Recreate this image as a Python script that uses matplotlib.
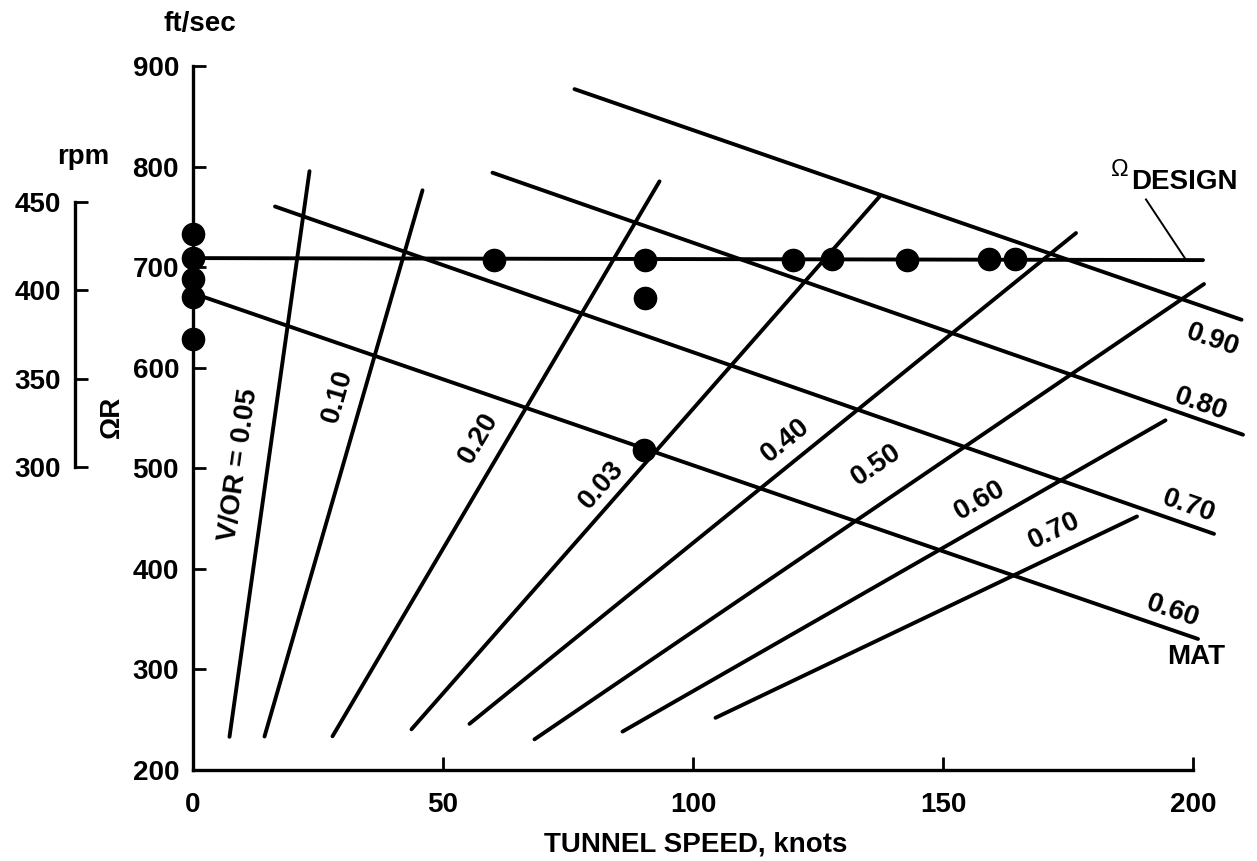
import numpy as np
import matplotlib
matplotlib.use("Agg")
import matplotlib.pyplot as plt

plt.rcParams['font.family'] = ['Liberation Sans', 'DejaVu Sans']
plt.rcParams['font.weight'] = 'bold'

# ---------------- data ----------------
x_ticks = [0, 50, 100, 150, 200]
y_ticks = [200, 300, 400, 500, 600, 700, 800, 900]
rpm_ticks = [300, 350, 400, 450]

# design rotor tip speed line
design_knots = [0, 202]
design_omegaR = [709, 707]

# test points
pt_knots = [0, 0, 0, 0, 0, 60.1, 90.3, 90.4, 90.2, 119.9, 127.7, 142.7, 159.1, 164.3]
pt_omegaR = [733, 709, 688, 670, 629, 707.5, 707.5, 669, 518.5, 707.5, 708, 707.5, 708, 708.5]

# advance ratio lines V/OmegaR
mu_labels = ["V/OR = 0.05", "0.10", "0.20", "0.03", "0.40", "0.50", "0.60", "0.70"]
mu_knots_start = [7.3, 14.3, 27.9, 43.7, 55.3, 68.3, 85.9, 104.5]
mu_omegaR_start = [233, 233.3, 233.5, 240.5, 245.9, 230.5, 238.2, 251.9]
mu_knots_end = [23.3, 45.9, 93.3, 137.3, 176.6, 202.2, 194.5, 188.8]
mu_omegaR_end = [795.4, 776.4, 785.3, 770.1, 733.9, 683.2, 547.7, 452.1]
mu_label_knots = [9.2, 29.0, 57.2, 81.7, 118.6, 136.6, 157.3, 172.2]
mu_label_omegaR = [503.6, 572.0, 530.3, 483.6, 527.8, 503.7, 467.7, 437.5]

# advancing-tip Mach number lines (MAT)
mat_labels = ["0.90", "0.80", "0.70", "0.60"]
mat_knots_start = [76.3, 59.9, 16.4, 0.0]
mat_omegaR_start = [877, 793.9, 760.3, 674]
mat_knots_end = [209.7, 210.0, 204.2, 201.0]
mat_omegaR_end = [647.7, 533.4, 434.8, 330.3]
mat_label_knots = [203.9, 201.5, 199.1, 196.0]
mat_label_omegaR = [627.0, 564.0, 462.0, 358.0]

# ---------------- figure ----------------
W, H = 1257, 861
fig = plt.figure(figsize=(W / 100, H / 100), dpi=100)

def fx(px):
    return px / W

def fy(py):
    return 1 - py / H

FS = 20

ax = fig.add_axes([fx(193), fy(770), fx(1193) - fx(193), fy(66) - fy(770)])
ax.set_xlim(0, 200)
ax.set_ylim(200, 900)
for s in ['top', 'right']:
    ax.spines[s].set_visible(False)
for s in ['left', 'bottom']:
    ax.spines[s].set_linewidth(2.4)
ax.set_xticks(x_ticks)
ax.set_yticks(y_ticks)
ax.tick_params(axis='both', direction='in', length=9.5, width=2.0,
               labelsize=FS, colors='black')
ax.tick_params(axis='x', pad=16)
ax.tick_params(axis='y', pad=10)

LW = 2.8
ax.plot(design_knots, design_omegaR, color='black', lw=LW, clip_on=False,
        solid_capstyle='round', zorder=3)

for xs, ys, xe, ye in zip(mu_knots_start, mu_omegaR_start, mu_knots_end, mu_omegaR_end):
    ax.plot([xs, xe], [ys, ye], color='black', lw=LW, clip_on=False,
            solid_capstyle='round', zorder=2)

for xs, ys, xe, ye in zip(mat_knots_start, mat_omegaR_start, mat_knots_end, mat_omegaR_end):
    ax.plot([xs, xe], [ys, ye], color='black', lw=LW, clip_on=False,
            solid_capstyle='round', zorder=2)

ax.plot(pt_knots, pt_omegaR, 'o', color='black', ms=16, clip_on=False, zorder=5)

# labels on advance ratio lines
for lab, lx, ly, xs, ys, xe, ye in zip(mu_labels, mu_label_knots, mu_label_omegaR,
                                       mu_knots_start, mu_omegaR_start,
                                       mu_knots_end, mu_omegaR_end):
    ang = np.degrees(np.arctan2(ye - ys, xe - xs))
    ax.text(lx, ly, lab, fontsize=FS, rotation=ang, rotation_mode='anchor',
            transform_rotates_text=True, ha='center', va='center', clip_on=False)

# labels on MAT lines
for lab, lx, ly, xs, ys, xe, ye in zip(mat_labels, mat_label_knots, mat_label_omegaR,
                                       mat_knots_start, mat_omegaR_start,
                                       mat_knots_end, mat_omegaR_end):
    ang = np.degrees(np.arctan2(ye - ys, xe - xs))
    ax.text(lx, ly, lab, fontsize=FS, rotation=ang, rotation_mode='anchor',
            transform_rotates_text=True, ha='center', va='center', clip_on=False)

ax.text(200.7, 312, "MAT", fontsize=FS, ha='center', va='center', clip_on=False)

# Omega design label + leader
ax.plot([190.6, 198.5], [767.3, 708], color='black', lw=1.4, clip_on=False)
ax.text(185.3, 797, "Ω", fontsize=17, fontweight='normal', ha='center', va='center',
        clip_on=False)
ax.text(187.6, 785, "DESIGN", fontsize=FS, ha='left', va='center', clip_on=False)

# axis titles
fig.text(fx(200), fy(24), "ft/sec", fontsize=FS, ha='center', va='center')
fig.text(fx(696), fy(845), "TUNNEL SPEED, knots", fontsize=FS, ha='center', va='center')
fig.text(fx(112), fy(417), "ΩR", fontsize=FS, ha='center', va='center', rotation=90)
fig.text(fx(83), fy(157), "rpm", fontsize=FS, ha='center', va='center')

# rpm scale
ax2 = fig.add_axes([fx(75), fy(467), 0.01, fy(202) - fy(467)])
ax2.set_ylim(300, 450)
ax2.set_yticks(rpm_ticks)
ax2.patch.set_visible(False)
for s in ['top', 'right', 'bottom']:
    ax2.spines[s].set_visible(False)
ax2.spines['left'].set_linewidth(2.4)
ax2.spines['left'].set_bounds(300, 450)
ax2.set_xticks([])
ax2.tick_params(axis='y', direction='in', length=9.5, width=2.0, labelsize=FS, pad=10)

fig.savefig("out.png", dpi=100, facecolor='white')
